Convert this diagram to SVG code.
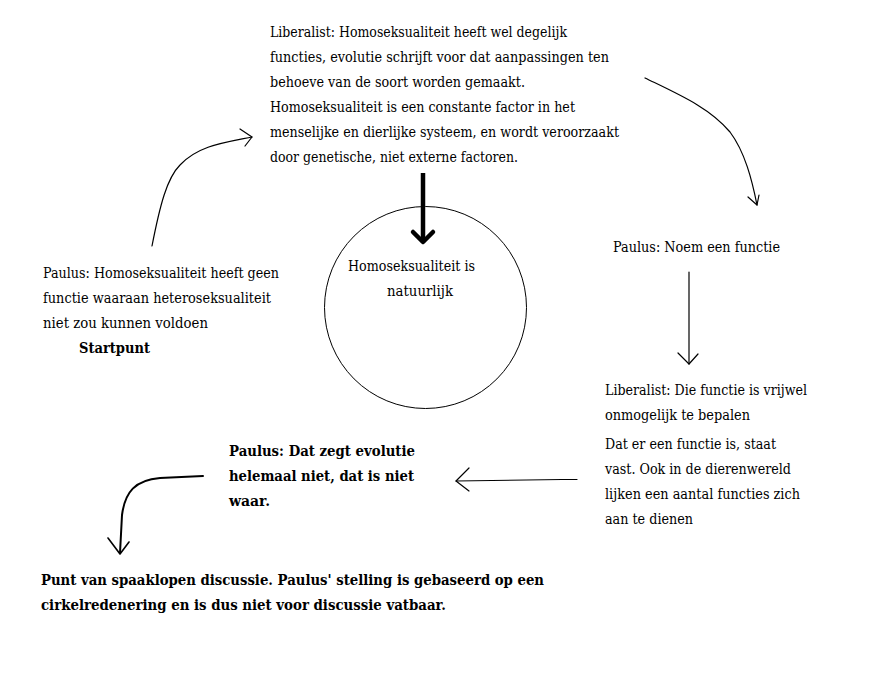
<svg xmlns="http://www.w3.org/2000/svg" width="895" height="676" viewBox="0 0 895 676">
<style>
.ln{fill:none;stroke:#000;stroke-width:1.2;stroke-linecap:round;stroke-linejoin:round}
</style>
<rect width="895" height="676" fill="#fff"/>
<g font-family="'DejaVu Serif', 'Liberation Serif', serif" font-size="14" fill="#000">
<g id="n-liberalist1">
<text x="270" y="37" textLength="297" lengthAdjust="spacingAndGlyphs">Liberalist: Homoseksualiteit heeft wel degelijk</text>
<text x="270" y="62" textLength="339" lengthAdjust="spacingAndGlyphs">functies, evolutie schrijft voor dat aanpassingen ten</text>
<text x="270" y="87" textLength="255" lengthAdjust="spacingAndGlyphs">behoeve van de soort worden gemaakt.</text>
<text x="270" y="112" textLength="305" lengthAdjust="spacingAndGlyphs">Homoseksualiteit is een constante factor in het</text>
<text x="270" y="137" textLength="349" lengthAdjust="spacingAndGlyphs">menselijke en dierlijke systeem, en wordt veroorzaakt</text>
<text x="270" y="162" textLength="248" lengthAdjust="spacingAndGlyphs">door genetische, niet externe factoren.</text>
</g>
<g id="n-circle">
<circle cx="425.5" cy="307.5" r="101" fill="none" stroke="#000" stroke-width="1"/>
<text x="348" y="271" textLength="127" lengthAdjust="spacingAndGlyphs">Homoseksualiteit is</text>
<text x="387" y="296" textLength="66" lengthAdjust="spacingAndGlyphs">natuurlijk</text>
</g>
<g id="n-paulus1">
<text x="43" y="278" textLength="236" lengthAdjust="spacingAndGlyphs">Paulus: Homoseksualiteit heeft geen</text>
<text x="43" y="303" textLength="228" lengthAdjust="spacingAndGlyphs">functie waaraan heteroseksualiteit</text>
<text x="43" y="328" textLength="165" lengthAdjust="spacingAndGlyphs">niet zou kunnen voldoen</text>
<text font-weight="bold" x="79" y="353" textLength="71" lengthAdjust="spacingAndGlyphs">Startpunt</text>
</g>
<g id="n-paulus2">
<text x="613" y="252" textLength="167" lengthAdjust="spacingAndGlyphs">Paulus: Noem een functie</text>
</g>
<g id="n-liberalist2">
<text x="605" y="395" textLength="202" lengthAdjust="spacingAndGlyphs">Liberalist: Die functie is vrijwel</text>
<text x="605" y="420" textLength="145" lengthAdjust="spacingAndGlyphs">onmogelijk te bepalen</text>
<text x="605" y="449" textLength="171" lengthAdjust="spacingAndGlyphs">Dat er een functie is, staat</text>
<text x="605" y="474" textLength="186" lengthAdjust="spacingAndGlyphs">vast. Ook in de dierenwereld</text>
<text x="605" y="499" textLength="195" lengthAdjust="spacingAndGlyphs">lijken een aantal functies zich</text>
<text x="605" y="524" textLength="88" lengthAdjust="spacingAndGlyphs">aan te dienen</text>
</g>
<g id="n-paulus3" font-weight="bold">
<text x="229" y="456" textLength="186" lengthAdjust="spacingAndGlyphs">Paulus: Dat zegt evolutie</text>
<text x="229" y="481" textLength="185" lengthAdjust="spacingAndGlyphs">helemaal niet, dat is niet</text>
<text x="229" y="506" textLength="41" lengthAdjust="spacingAndGlyphs">waar.</text>
</g>
<g id="n-conclusie" font-weight="bold">
<text x="41" y="585" textLength="503" lengthAdjust="spacingAndGlyphs">Punt van spaaklopen discussie. Paulus' stelling is gebaseerd op een</text>
<text x="41" y="610" textLength="405" lengthAdjust="spacingAndGlyphs">cirkelredenering en is dus niet voor discussie vatbaar.</text>
</g>
</g>
<g id="connectors">
<path class="ln" d="M152,246 C160,205 167,178 180,165 C198,146 222,143 252,137"/>
<path class="ln" d="M240,129 L252,137 L245,146"/>
<path class="ln" d="M645,78 C680,95 710,108 730,132 C745,152 752,180 757,205"/>
<path class="ln" d="M748,197 L757,205 L759,195"/>
<path d="M423,173 V242" fill="none" stroke="#000" stroke-width="4.5"/>
<path d="M413,232 L423,242 L433,232" fill="none" stroke="#000" stroke-width="4.5" stroke-linecap="round" stroke-linejoin="round"/>
<path class="ln" d="M689,272 V364"/>
<path class="ln" d="M678,353 L689,364 L698,354"/>
<path class="ln" d="M577,479.5 L562,479.5 L456,481"/>
<path class="ln" d="M469,468 L456,481 L469,491"/>
<path d="M203,476 L160,478 C135,480 125,492 122,515 L120,553" fill="none" stroke="#000" stroke-width="2" stroke-linecap="round"/>
<path class="ln" d="M108,538 L120,554 L129,542" style="stroke-width:1.6"/>
</g>
</svg>
